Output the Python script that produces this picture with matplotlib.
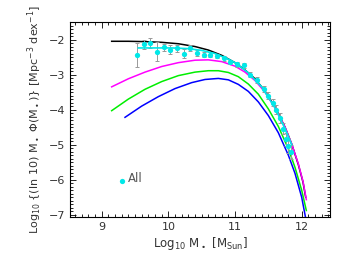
import matplotlib
matplotlib.use("Agg")
import matplotlib.pyplot as plt
from matplotlib.ticker import MultipleLocator

# model curves (log10 M*, log10 phi)
black_x = [9.15, 9.4, 9.65, 9.9, 10.15, 10.4, 10.6, 10.8, 11.0, 11.15, 11.3, 11.45, 11.6, 11.75, 11.85, 11.95, 12.02, 12.06]
black_y = [-2.05, -2.05, -2.06, -2.08, -2.12, -2.20, -2.30, -2.45, -2.66, -2.87, -3.12, -3.47, -3.93, -4.50, -4.98, -5.57, -6.07, -6.50]

magenta_x = [9.15, 9.4, 9.65, 9.9, 10.15, 10.4, 10.6, 10.8, 11.0, 11.15, 11.3, 11.45, 11.6, 11.75, 11.85, 11.95, 12.02, 12.07]
magenta_y = [-3.35, -3.12, -2.93, -2.77, -2.66, -2.59, -2.58, -2.63, -2.76, -2.93, -3.17, -3.50, -3.95, -4.50, -4.98, -5.55, -6.05, -6.57]

green_x = [9.15, 9.4, 9.65, 9.9, 10.15, 10.4, 10.6, 10.75, 10.9, 11.05, 11.2, 11.35, 11.5, 11.65, 11.8, 11.9, 12.0, 12.07]
green_y = [-4.03, -3.70, -3.42, -3.20, -3.03, -2.93, -2.89, -2.89, -2.94, -3.06, -3.27, -3.56, -3.98, -4.48, -5.12, -5.65, -6.30, -6.88]

blue_x = [9.35, 9.6, 9.85, 10.1, 10.35, 10.55, 10.75, 10.9, 11.05, 11.2, 11.35, 11.5, 11.65, 11.8, 11.9, 12.0, 12.06]
blue_y = [-4.22, -3.90, -3.63, -3.40, -3.23, -3.14, -3.11, -3.15, -3.28, -3.48, -3.78, -4.17, -4.66, -5.30, -5.82, -6.50, -7.10]

fit_x = [9.55, 9.8, 10.05, 10.3, 10.5, 10.7, 10.9, 11.0, 11.2, 11.4, 11.6, 11.75, 11.85]
fit_y = [-2.24, -2.24, -2.24, -2.26, -2.31, -2.40, -2.56, -2.66, -2.95, -3.35, -3.95, -4.55, -5.00]

# observed points ("All")
obs_x = [9.53, 9.63, 9.73, 9.83, 9.93, 10.03, 10.13, 10.23, 10.33, 10.43, 10.53, 10.63, 10.73, 10.83,
         10.93, 11.03, 11.13, 11.23, 11.33, 11.43, 11.50, 11.57, 11.62, 11.67, 11.72, 11.76, 11.80, 11.84]
obs_y = [-2.43, -2.14, -2.10, -2.35, -2.22, -2.29, -2.25, -2.40, -2.24, -2.38, -2.43, -2.43, -2.47, -2.54,
         -2.64, -2.70, -2.74, -3.00, -3.15, -3.42, -3.60, -3.80, -4.00, -4.25, -4.55, -4.85, -5.05, -5.20]
obs_err = [0.34, 0.14, 0.13, 0.27, 0.10, 0.12, 0.10, 0.12, 0.09, 0.09, 0.08, 0.08, 0.07, 0.07,
           0.07, 0.07, 0.08, 0.08, 0.09, 0.09, 0.09, 0.10, 0.12, 0.14, 0.16, 0.18, 0.20, 0.20]

txt = "#333333"
plt.rcParams["font.family"] = "DejaVu Sans"
plt.rcParams["mathtext.fontset"] = "dejavusans"

fig = plt.figure(figsize=(3.49, 2.62), dpi=100)
ax = fig.add_axes([0.2006, 0.171, 0.745, 0.745])

ax.plot(black_x, black_y, color="black", lw=1.1)
ax.plot(magenta_x, magenta_y, color="#ff00ff", lw=1.1)
ax.plot(green_x, green_y, color="#00ee00", lw=1.1)
ax.plot(blue_x, blue_y, color="#0000ff", lw=1.1)

ax.errorbar(obs_x, obs_y, yerr=obs_err, fmt="none", ecolor="#999999",
            elinewidth=0.7, capsize=1.5, capthick=0.7)
ax.plot(fit_x, fit_y, color="#00e8e8", lw=1.2)
ax.plot(obs_x, obs_y, "o", color="#00e8e8", ms=3.8, mec="none")

# legend entry
ax.plot([9.3], [-6.03], "o", color="#00e8e8", ms=3.8, mec="none")
ax.text(9.4, -5.97, "All", color="#555555", fontsize=8.5, va="center", ha="left")

ax.set_xlim(8.525, 12.425)
ax.set_ylim(-7.07, -1.5)
ax.xaxis.set_major_locator(MultipleLocator(1))
ax.xaxis.set_minor_locator(MultipleLocator(0.1))
ax.yaxis.set_major_locator(MultipleLocator(1))
ax.yaxis.set_minor_locator(MultipleLocator(0.1))
ax.tick_params(which="both", direction="in", top=True, right=True,
               labelsize=8, labelcolor=txt, width=0.6)
ax.tick_params(which="major", length=4)
ax.tick_params(which="minor", length=2)
ax.set_yticks([-2, -3, -4, -5, -6, -7])
ax.set_yticklabels(["\u22122", "\u22123", "\u22124", "\u22125", "\u22126", "\u22127"])
for s in ax.spines.values():
    s.set_linewidth(0.8)

ax.set_xlabel(r"Log$_{10}$ M$_\bullet$ [M$_{\rm Sun}$]", fontsize=8.5, color=txt, labelpad=2)
ax.set_ylabel(r"Log$_{10}$ $\{$(ln 10) M$_\bullet$ $\Phi$(M$_\bullet$)$\}$ [Mpc$^{-3}$ dex$^{-1}$]",
              fontsize=8, color=txt, labelpad=3)

fig.savefig("out.png", dpi=100)
